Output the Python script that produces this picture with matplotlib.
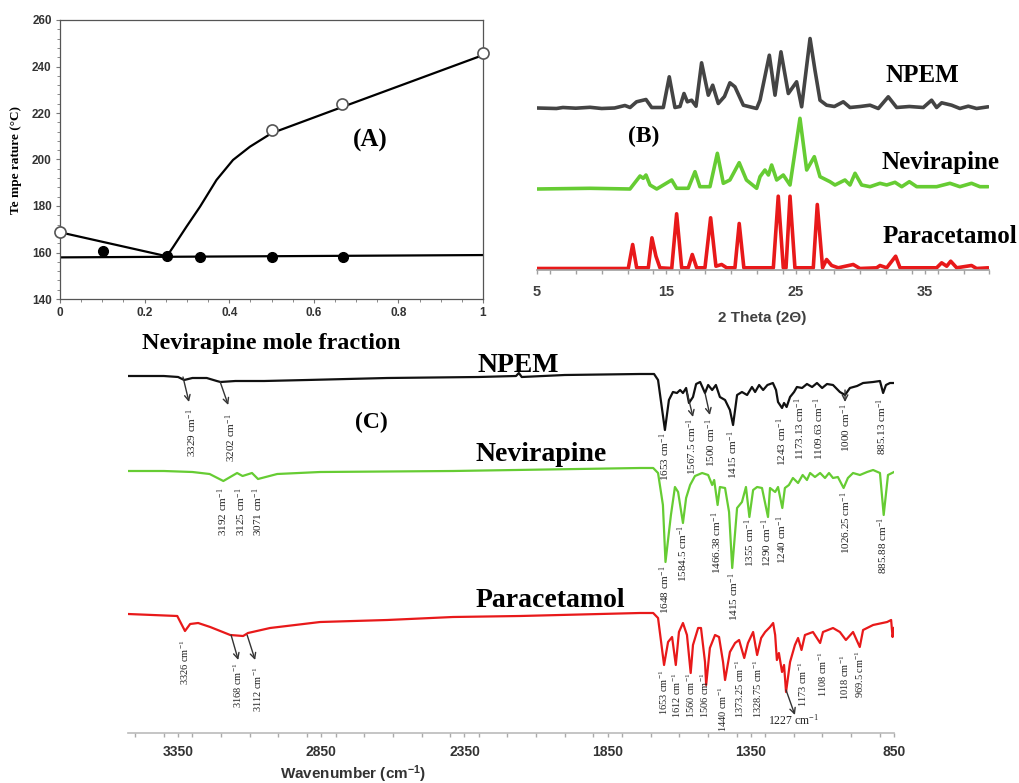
import matplotlib
matplotlib.use("Agg")
import matplotlib.pyplot as plt
from matplotlib.ticker import MultipleLocator, FixedLocator, FixedFormatter

W, H = 1020, 783
SERIF = 'Liberation Serif'
SANS = 'Liberation Sans'
SUP = r'$\mathregular{^{-1}}$'

# ---------------- (A) phase diagram ----------------
open_x = [0.0, 0.5, 0.667, 1.0]
open_t = [168.7, 212.7, 223.9, 245.7]
filled_x = [0.102, 0.252, 0.332, 0.5, 0.669]
filled_t = [160.8, 158.5, 158.2, 158.2, 158.2]
liq_left_x = [0.0, 0.252]
liq_left_t = [168.7, 158.4]
liq_right_x = [0.252, 0.268, 0.299, 0.331, 0.370, 0.409, 0.449, 0.5, 0.669, 1.0]
liq_right_t = [158.2, 162.5, 171.1, 179.7, 191.2, 199.8, 205.5, 211.3, 222.7, 244.9]
sol_x = [0.0, 1.0]
sol_t = [157.9, 158.9]
a_ticks = [0, 0.2, 0.4, 0.6, 0.8, 1.0]
a_tick_labels = ['0', '0.2', '0.4', '0.6', '0.8', '1']

# ---------------- (B) XRD patterns ----------------
npem_2t = [5.0, 6.5, 7.0, 8.0, 9.1, 10.0, 11.0, 11.8, 12.2, 12.7, 13.43, 13.87, 14.77, 15.23,
           15.67, 16.06, 16.37, 16.63, 16.96, 17.3, 17.73, 18.25, 18.59, 19.02, 19.5, 19.92,
           20.31, 20.96, 21.99, 22.25, 22.97, 23.41, 23.87, 24.44, 25.08, 25.47, 26.12, 26.5,
           26.89, 27.4, 28.0, 28.69, 29.21, 30.0, 30.76, 31.4, 32.17, 32.82, 33.8, 34.88, 35.52,
           35.91, 36.3, 37.07, 37.71, 38.36, 39.0, 39.9]
npem_i = [0.5, 0.0, 1.0, 0.3, 1.2, 0.0, 0.5, 3.0, 1.0, 6.7, 9.0, 1.0, 1.0, 31.7,
          1.0, 2.0, 15.0, 6.7, 8.3, 2.3, 45.7, 13.3, 23.3, 5.0, 12.0, 25.7,
          21.7, 3.3, 0.0, 8.3, 53.3, 13.3, 56.7, 15.0, 26.7, 1.7, 70.0, 38.3,
          8.3, 3.3, 2.0, 6.7, 1.0, 2.0, 3.3, 0.0, 11.7, 1.0, 2.0, 1.0, 8.3,
          1.0, 5.7, 3.3, 0.0, 2.3, 0.0, 1.7]

nev_2t = [5.0, 9.1, 12.19, 12.97, 13.22, 13.43, 13.74, 14.26, 15.42, 15.8, 16.7, 17.22, 17.6,
          18.38, 18.95, 19.41, 19.92, 20.64, 21.2, 21.99, 22.25, 22.63, 22.9, 23.15, 23.54,
          24.05, 24.57, 25.34, 25.86, 26.45, 26.89, 27.66, 28.05, 28.82, 29.21, 29.6, 30.11,
          30.76, 31.53, 32.05, 32.69, 33.21, 33.8, 34.37, 35.91, 36.94, 37.71, 38.61, 39.26, 39.9]
nev_i = [0.0, 0.7, 0.0, 13.0, 10.7, 14.0, 4.0, 0.0, 9.0, 0.7, 0.7, 17.3, 2.3,
         2.3, 35.7, 5.7, 9.0, 26.3, 9.0, 0.7, 12.3, 19.0, 14.0, 24.0, 9.0,
         14.0, 4.0, 70.7, 19.0, 32.3, 12.3, 7.3, 4.0, 9.0, 4.0, 15.7, 4.0,
         2.3, 5.7, 4.0, 6.7, 2.3, 7.3, 2.3, 2.3, 5.7, 2.3, 5.7, 2.3, 2.3]

para_2t = [5.0, 12.06, 12.4, 12.71, 13.61, 13.89, 14.2, 14.51, 15.42, 15.8, 16.19, 16.7, 17.01,
           17.35, 17.99, 18.43, 18.84, 19.28, 19.67, 20.31, 20.64, 21.0, 23.28, 23.66, 24.05,
           24.26, 24.57, 24.95, 26.37, 26.68, 27.09, 27.4, 27.79, 28.3, 29.46, 29.98, 31.27,
           31.53, 32.05, 32.74, 33.08, 35.91, 36.3, 36.69, 37.0, 37.46, 38.61, 39.0, 39.9]
para_i = [0.0, 0.0, 24.0, 0.7, 0.7, 30.7, 12.3, 0.7, 0.0, 54.7, 0.7, 0.7, 14.0,
          0.7, 0.7, 50.7, 2.3, 4.0, 0.7, 0.7, 45.0, 0.7, 0.7, 72.3, 0.7,
          0.7, 72.3, 0.7, 0.7, 64.0, 0.7, 9.0, 3.0, 0.7, 4.0, 0.0, 0.7,
          3.0, 0.7, 12.3, 0.7, 0.7, 5.7, 2.3, 7.3, 0.7, 3.0, 0.0, 0.7]

# ---------------- (C) FTIR spectra ----------------
npem_wn = [3525, 3400, 3350, 3329, 3300, 3250, 3215, 3202, 3150, 3050, 2900, 2620, 2300, 2170,
           2160, 2150, 2000, 1737, 1688, 1674, 1650, 1636, 1622, 1608, 1597, 1587, 1576, 1566,
           1552, 1541, 1527, 1510, 1499, 1485, 1472, 1458, 1440, 1423, 1412, 1398, 1381, 1363,
           1346, 1335, 1321, 1307, 1292, 1273, 1262, 1255, 1241, 1234, 1225, 1213, 1199, 1189,
           1171, 1154, 1136, 1119, 1101, 1084, 1063, 1039, 1021, 1004, 979, 958, 923, 899, 888,
           878, 864, 850]
npem_tr = [357, 357, 356, 353, 355, 355, 352, 351, 352, 352, 353, 355, 356, 357,
           360, 356, 358, 359, 359, 353, 303, 333, 341, 340, 343, 340, 345, 330,
           336, 349, 351, 340, 348, 343, 348, 336, 333, 323, 308, 338, 341, 338,
           346, 341, 348, 343, 348, 350, 343, 331, 325, 330, 326, 336, 341, 346,
           345, 349, 346, 350, 345, 349, 348, 341, 338, 345, 347, 350, 351, 352, 340,
           348, 350, 350]

nev_wn = [3525, 3400, 3300, 3240, 3192, 3144, 3125, 3092, 3071, 3004, 2854, 2390, 1737, 1691,
          1674, 1657, 1648, 1629, 1615, 1604, 1587, 1576, 1562, 1545, 1520, 1499, 1485, 1478,
          1466, 1458, 1440, 1426, 1415, 1398, 1381, 1367, 1355, 1342, 1328, 1311, 1290, 1283,
          1265, 1255, 1240, 1231, 1217, 1203, 1185, 1169, 1154, 1143, 1126, 1108, 1091, 1077,
          1063, 1046, 1026, 1011, 993, 969, 944, 923, 899, 886, 871, 850]
nev_tr = [262, 262, 261, 259, 252, 260, 257, 260, 254, 259, 261, 262, 265, 265,
          260, 228, 171, 218, 246, 241, 210, 235, 248, 257, 260, 258, 248, 253,
          228, 246, 245, 221, 165, 225, 231, 246, 216, 243, 246, 245, 216, 245,
          241, 246, 225, 245, 248, 255, 250, 258, 253, 260, 256, 260, 255, 260,
          255, 256, 245, 255, 260, 258, 261, 263, 260, 218, 258, 261]

para_wn = [3525, 3353, 3326, 3308, 3280, 3238, 3168, 3123, 3106, 3029, 2854, 2620, 2390, 2156,
           1737, 1691, 1674, 1653, 1639, 1625, 1612, 1601, 1587, 1573, 1560, 1552, 1534, 1524,
           1510, 1506, 1493, 1475, 1461, 1447, 1440, 1423, 1405, 1391, 1373, 1360, 1342, 1328,
           1314, 1300, 1283, 1272, 1265, 1259, 1252, 1241, 1234, 1227, 1213, 1196, 1185, 1173,
           1161, 1133, 1108, 1098, 1063, 1039, 1018, 993, 969.5, 958, 923, 874, 860, 855, 850]
para_tr = [119, 117, 102, 109, 110, 106, 98, 97, 100, 105, 111, 113, 116, 117,
           120, 120, 115, 68, 91, 96, 68, 101, 110, 98, 60, 88, 105, 105,
           71, 48, 85, 98, 96, 71, 53, 81, 90, 93, 75, 90, 101, 78,
           95, 101, 106, 110, 98, 73, 80, 61, 68, 41, 71, 88, 95, 83,
           98, 101, 90, 101, 105, 101, 93, 101, 86, 103, 108, 111, 113, 96, 105]

# peak labels: (text, x position in cm-1, top of text in trace units)
npem_labels = [('3329', 3301, 325), ('3202', 3168, 320), ('1653', 1650, 301),
               ('1567.5', 1555, 315), ('1500', 1489, 315), ('1415', 1412, 303),
               ('1243', 1241, 316), ('1173.13', 1178, 335), ('1109.63', 1112, 335),
               ('1000', 1018, 330), ('885.13', 892, 335)]
npem_arrows = [((3333, 356), (3312, 331)), ((3203, 351), (3175, 328)),
               ((1573, 341), (1552, 316)), ((1510, 340), (1493, 318)),
               ((1021, 343), (1021, 331))]
nev_labels = [('3192', 3196, 246), ('3125', 3133, 246), ('3071', 3071, 246),
              ('1648', 1650, 168), ('1584.5', 1587, 208), ('1466.38', 1468, 221),
              ('1415', 1409, 161), ('1355', 1353, 215), ('1290', 1293, 215),
              ('1240', 1241, 218), ('1026.25', 1018, 241), ('885.88', 889, 216)]
para_labels = [('3326', 3326, 93), ('3168', 3140, 70), ('3112', 3071, 66),
               ('1653', 1654, 63), ('1612', 1607, 60), ('1560', 1561, 60),
               ('1506', 1510, 60), ('1440', 1447, 46), ('1373.25', 1388, 73),
               ('1328.75', 1325, 73), ('1173', 1168, 71), ('1108', 1098, 81),
               ('1018', 1021, 78), ('969.5', 969, 83)]
para_arrows = [((3165, 98), (3140, 73)), ((3109, 98), (3081, 73)),
               ((1227, 43), (1196, 18))]

BLACK = '#111111'
GREY = '#444444'
GREEN = '#66cc33'
RED = '#e8191a'


def px_axes(fig, left, top, right, bottom):
    return fig.add_axes([left / W, 1 - bottom / H, (right - left) / W, (bottom - top) / H])


def fig_text(fig, x, y, s, **kw):
    return fig.text(x / W, 1 - y / H, s, **kw)


fig = plt.figure(figsize=(W / 100, H / 100), dpi=100)

# ----- panel A -----
ax = px_axes(fig, 60, 20, 483, 299)
ax.plot(liq_left_x, liq_left_t, color='k', lw=1.6)
ax.plot(liq_right_x, liq_right_t, color='k', lw=1.6, solid_joinstyle='round')
ax.plot(sol_x, sol_t, color='k', lw=1.6)
ax.plot(open_x, open_t, 'o', mfc='white', mec='#555555', ms=8, mew=1.2, clip_on=False, zorder=3)
ax.plot(filled_x, filled_t, 'o', color='k', ms=7, clip_on=False, zorder=3)
ax.set_xlim(0, 1)
ax.set_ylim(140, 260)
ax.xaxis.set_major_locator(FixedLocator(a_ticks))
ax.xaxis.set_major_formatter(FixedFormatter(a_tick_labels))
ax.xaxis.set_minor_locator(MultipleLocator(0.05))
ax.yaxis.set_major_locator(MultipleLocator(20))
ax.yaxis.set_minor_locator(MultipleLocator(4))
for s in ax.spines.values():
    s.set_color('#555555')
    s.set_linewidth(0.9)
ax.tick_params(which='both', direction='out', color='#777777', labelsize=8.5, labelcolor='#333333')
ax.tick_params(which='major', length=3, pad=3)
ax.tick_params(which='minor', length=2)
for lab in ax.get_xticklabels() + ax.get_yticklabels():
    lab.set_fontweight('bold')
    lab.set_family(SANS)
ax.text(0.5, -0.16, 'Nevirapine mole fraction', transform=ax.transAxes, ha='center', va='center',
        fontsize=17.5, fontweight='bold', family=SERIF)
fig_text(fig, 16, 160, 'Te mpe rature (°C)', rotation=90, ha='center', va='center',
         fontsize=9.5, fontweight='bold', family=SERIF)
fig_text(fig, 370, 140, '(A)', ha='center', va='center', fontsize=18, fontweight='bold', family=SERIF)

# ----- panel B -----
bx = px_axes(fig, 537, 20, 989.5, 270)
line_kw = dict(lw=2.6, solid_joinstyle='round', solid_capstyle='round')
bx.plot(npem_2t, [v + 161.5 for v in npem_i], color=GREY, **line_kw)
bx.plot(nev_2t, [v + 81 for v in nev_i], color=GREEN, **line_kw)
bx.plot(para_2t, [v + 1.5 for v in para_i], color=RED, **line_kw)
bx.set_xlim(5, 40)
bx.set_ylim(0, 250)
bx.xaxis.set_major_locator(FixedLocator([5, 15, 25, 35]))
bx.xaxis.set_minor_locator(MultipleLocator(2))
for side in ['left', 'right', 'top']:
    bx.spines[side].set_visible(False)
bx.spines['bottom'].set_color('#a0a0a0')
bx.spines['bottom'].set_linewidth(1.2)
bx.set_yticks([])
bx.tick_params(axis='x', which='both', direction='out', color='#a0a0a0', length=3, width=1)
bx.tick_params(axis='x', labelsize=10.5, labelcolor='#404040', pad=8)
for lab in bx.get_xticklabels():
    lab.set_fontweight('bold')
    lab.set_family(SANS)
fig_text(fig, 762, 318, '2 Theta (2Θ)', ha='center', va='center', fontsize=11,
         fontweight='bold', color='#404040', family=SANS)
fig_text(fig, 886, 82, 'NPEM', ha='left', va='baseline', fontsize=18, fontweight='bold', family=SERIF)
fig_text(fig, 882, 169, 'Nevirapine', ha='left', va='baseline', fontsize=18, fontweight='bold', family=SERIF)
fig_text(fig, 883, 243, 'Paracetamol', ha='left', va='baseline', fontsize=18, fontweight='bold', family=SERIF)
fig_text(fig, 644, 136, '(B)', ha='center', va='center', fontsize=17, fontweight='bold', family=SERIF)

# ----- panel C -----
cx = px_axes(fig, 128, 355, 894, 733)
cx.plot(npem_wn, npem_tr, color=BLACK, lw=1.6, solid_joinstyle='round')
cx.plot(nev_wn, nev_tr, color=GREEN, lw=1.6, solid_joinstyle='round')
cx.plot(para_wn, para_tr, color=RED, lw=1.6, solid_joinstyle='round')
cx.set_xlim(3525, 850)
cx.set_ylim(0, 378)
cx.xaxis.set_major_locator(FixedLocator([3350, 2850, 2350, 1850, 1350, 850]))
cx.xaxis.set_minor_locator(MultipleLocator(100))
for side in ['left', 'right', 'top']:
    cx.spines[side].set_visible(False)
cx.spines['bottom'].set_color('#bbbbbb')
cx.spines['bottom'].set_linewidth(1.2)
cx.set_yticks([])
cx.tick_params(axis='x', which='both', direction='out', color='#aaaaaa', length=3, width=1)
cx.tick_params(axis='x', labelsize=10, labelcolor='#333333', pad=6)
for lab in cx.get_xticklabels():
    lab.set_fontweight('bold')
    lab.set_family(SANS)
fig_text(fig, 353, 774, 'Wavenumber (cm' + SUP + ')', ha='center', va='center', fontsize=11,
         fontweight='bold', color='#333333', family=SANS)

for labels, fs in ((npem_labels, 8), (nev_labels, 8), (para_labels, 7.5)):
    for txt, x, y in labels:
        cx.text(x, y, txt + ' cm' + SUP, rotation=90, ha='center', va='top',
                fontsize=fs, family=SERIF, color='#222222')
for start, end in npem_arrows + para_arrows:
    cx.annotate('', xy=end, xytext=start,
                arrowprops=dict(arrowstyle='->', lw=1.0, color='#333333', shrinkA=0, shrinkB=0))
cx.text(1290, 13, '1227 cm' + SUP, ha='left', va='center', fontsize=8.5, family=SERIF, color='#222222')

fig_text(fig, 518, 372, 'NPEM', ha='center', va='baseline', fontsize=20, fontweight='bold', family=SERIF)
fig_text(fig, 541, 461, 'Nevirapine', ha='center', va='baseline', fontsize=20, fontweight='bold', family=SERIF)
fig_text(fig, 550, 607, 'Paracetamol', ha='center', va='baseline', fontsize=20, fontweight='bold', family=SERIF)
fig_text(fig, 371, 422, '(C)', ha='center', va='center', fontsize=17, fontweight='bold', family=SERIF)

fig.savefig('out.png', dpi=100)
